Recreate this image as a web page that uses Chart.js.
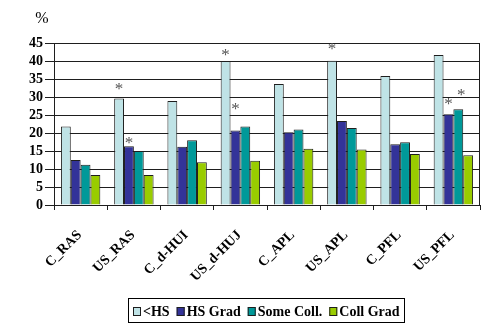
<!DOCTYPE html>
<html>
<head>
<meta charset="utf-8">
<title>Education groups by site</title>
<script src="https://cdn.jsdelivr.net/npm/chart.js@4/dist/chart.umd.min.js"></script>
<style>
  html, body { margin: 0; padding: 0; background: #fff; }
  canvas { display: block; }
</style>
</head>
<body>
<canvas id="eduChart" width="485" height="324"></canvas>
<script>
// sites along the x axis
const categories = ["C_RAS", "US_RAS", "C_d-HUI", "US_d-HUJ", "C_APL", "US_APL", "C_PFL", "US_PFL"];

// percent per education group
const lessHS   = [21.8, 29.6, 28.9, 40.0, 33.6, 40.1, 35.8, 41.7];
const hsGrad   = [12.5, 16.3, 16.2, 20.7, 20.2, 23.3, 16.9, 25.2];
const someColl = [11.2, 15.0, 18.0, 21.8, 21.0, 21.4, 17.4, 26.6];
const collGrad = [ 8.3,  8.3, 11.9, 12.3, 15.6, 15.4, 14.2, 13.8];

// significance markers (1 = asterisk over the bar)
const starLessHS   = [0, 1, 0, 1, 0, 1, 0, 0];
const starHsGrad   = [0, 1, 0, 1, 0, 0, 0, 1];
const starSomeColl = [0, 0, 0, 0, 0, 0, 0, 1];
const starCollGrad = [0, 0, 0, 0, 0, 0, 0, 0];

const yTicks = [0, 5, 10, 15, 20, 25, 30, 35, 40, 45];

const serif = "'Liberation Serif', 'Times New Roman', serif";
const boldFont = "bold 14px " + serif;
Chart.defaults.font.family = serif;
Chart.defaults.color = "#000";

function series(label, data, color, stars) {
  return {
    label: label,
    data: data,
    stars: stars,
    backgroundColor: color,
    borderColor: "#1e1e1e",
    borderWidth: 1,
    barPercentage: 1.0,
    categoryPercentage: 0.74
  };
}

// how far above the bar top each asterisk sits, keyed "dataset:index"
const starLift = { "0:1": 13, "1:1": 7, "0:3": 9, "1:3": 25, "0:5": 15, "1:7": 14, "2:7": 18 };
const starShiftX = { "2:7": 3 };

const extras = {
  id: "extras",
  beforeDatasetsDraw(chart) {
    const a = chart.chartArea, ctx = chart.ctx;
    ctx.save();
    ctx.strokeStyle = "#1e1e1e";
    ctx.lineWidth = 1;
    ctx.beginPath();
    ctx.moveTo(a.right - 0.5, a.top);
    ctx.lineTo(a.right - 0.5, a.bottom);
    ctx.stroke();
    ctx.restore();
  },
  afterDatasetsDraw(chart) {
    const ctx = chart.ctx;
    ctx.save();
    ctx.fillStyle = "#555";
    ctx.font = "17px " + serif;
    ctx.textAlign = "center";
    ctx.textBaseline = "middle";
    chart.data.datasets.forEach((ds, di) => {
      const meta = chart.getDatasetMeta(di);
      ds.stars.forEach((s, i) => {
        if (!s) return;
        const bar = meta.data[i];
        const key = di + ":" + i;
        const lift = starLift[key] || 12;
        const dx = starShiftX[key] || 0;
        ctx.fillText("*", bar.x + dx, bar.y - lift + 4);
      });
    });
    ctx.restore();
  },
  afterDraw(chart) {
    const ctx = chart.ctx;
    const xs = chart.scales.x;
    ctx.save();

    // unit label
    ctx.fillStyle = "#000";
    ctx.font = "16px " + serif;
    ctx.textAlign = "center";
    ctx.textBaseline = "middle";
    ctx.fillText("%", 42, 19);

    // slanted site names
    ctx.font = boldFont;
    ctx.textAlign = "right";
    ctx.textBaseline = "middle";
    chart.data.labels.forEach((lab, i) => {
      ctx.save();
      ctx.translate(xs.getPixelForValue(i) - 1, xs.top + 28);
      ctx.rotate(-Math.PI / 4);
      ctx.fillText(lab, 0, 0);
      ctx.restore();
    });

    // legend in a frame
    const box = 8, gapText = 2, gapItem = 7, pad = 4;
    ctx.textAlign = "left";
    const items = chart.data.datasets.map(ds => ({ ds, w: ctx.measureText(ds.label).width }));
    let total = items.reduce((s, it) => s + box + gapText + it.w, 0) + gapItem * (items.length - 1);
    let x = Math.round(266 - total / 2);
    const cy = 311;
    ctx.strokeStyle = "#000";
    ctx.lineWidth = 1;
    ctx.strokeRect(x - pad - 0.5, 298.5, Math.round(total) + pad * 2 + 1, 24);
    items.forEach(it => {
      ctx.fillStyle = it.ds.backgroundColor;
      ctx.fillRect(x, cy - 4, box, 9);
      ctx.strokeStyle = "#1e1e1e";
      ctx.strokeRect(x + 0.5, cy - 3.5, box - 1, 8);
      ctx.fillStyle = "#000";
      ctx.fillText(it.ds.label, x + box + gapText, cy + 1);
      x += box + gapText + it.w + gapItem;
    });

    ctx.restore();
  }
};

new Chart(document.getElementById("eduChart"), {
  type: "bar",
  data: {
    labels: categories,
    datasets: [
      series("<HS", lessHS, "#bfe3e6", starLessHS),
      series("HS Grad", hsGrad, "#333399", starHsGrad),
      series("Some Coll.", someColl, "#009999", starSomeColl),
      series("Coll Grad", collGrad, "#99cc00", starCollGrad)
    ]
  },
  options: {
    responsive: false,
    animation: false,
    layout: { padding: { top: 43, right: 5, left: 0, bottom: 0 } },
    plugins: {
      legend: { display: false },
      tooltip: { enabled: false }
    },
    scales: {
      x: {
        offset: true,
        grid: {
          offset: true,
          drawOnChartArea: false,
          drawTicks: true,
          tickLength: 5,
          color: "#1e1e1e"
        },
        border: { color: "#1e1e1e", width: 1 },
        ticks: { display: false },
        afterFit(scale) { scale.height = 119; }
      },
      y: {
        min: 0,
        max: 45,
        afterBuildTicks(scale) { scale.ticks = yTicks.map(v => ({ value: v })); },
        grid: { color: "#1e1e1e", tickLength: 9, lineWidth: 1 },
        border: { color: "#1e1e1e", width: 1 },
        ticks: {
          autoSkip: false,
          padding: 2,
          color: "#000",
          font: { size: 14, weight: "bold", family: serif }
        },
        afterFit(scale) { scale.width = 54; }
      }
    }
  },
  plugins: [extras]
});
</script>
</body>
</html>
